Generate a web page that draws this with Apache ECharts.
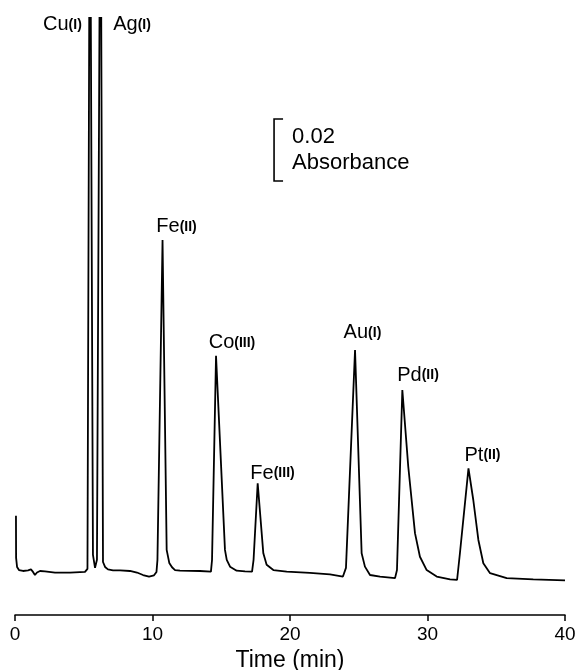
<!DOCTYPE html>
<html>
<head>
<meta charset="utf-8">
<script src="https://cdn.jsdelivr.net/npm/echarts@6/dist/echarts.min.js"></script>
<style>
html,body{margin:0;padding:0;background:#fff;}
#main{width:576px;height:670px;}
</style>
</head>
<body>
<div id="main"></div>
<script>
// chromatogram trace: [time (min), absorbance]
var trace = [
[0.07,0.0181],[0.08,0.0045],[0.15,0.0016],[0.29,0.0006],[0.58,0.0003],[0.95,0.0005],
[1.16,0.0008],[1.31,0],[1.45,-0.001],[1.6,-0.0002],[1.82,0.0003],[2.18,0.0002],
[2.91,-0.0002],[4.0,-0.0002],[5.09,0],[5.27,0.001],[5.45,0.25],[5.67,0.0055],
[5.82,0.0013],[5.96,0.0039],[6.22,0.25],[6.4,0.0032],[6.55,0.0016],[6.76,0.0008],
[7.13,0.0005],[7.64,0.0005],[8.36,0.0003],[8.87,-0.0002],[9.31,-0.001],[9.75,-0.0015],
[10.11,-0.0011],[10.29,0],[10.36,0.0039],[10.73,0.1071],[11.03,0.0071],[11.22,0.0029],
[11.42,0.0015],[11.64,0.0006],[12.0,0.0004],[13.45,0.0003],[14.25,0.0001],[14.33,0.0039],
[14.62,0.0697],[15.27,0.0071],[15.4,0.0039],[15.64,0.0017],[16.12,0.0004],[16.73,0.0002],
[17.24,0.0001],[17.35,0.0039],[17.65,0.0286],[18.06,0.006],[18.3,0.0023],[18.79,0.0006],
[19.76,0.0001],[21.45,-0.0003],[22.91,-0.0008],[23.85,-0.0015],[24.07,0.0013],[24.73,0.0716],
[25.21,0.006],[25.45,0.0017],[25.82,-0.001],[26.55,-0.0015],[27.64,-0.002],[27.78,0.0006],
[28.17,0.0587],[28.6,0.034],[29.09,0.0125],[29.45,0.0049],[29.94,0.0006],[30.67,-0.0015],
[31.64,-0.0024],[32.15,-0.0026],[32.36,0.0061],[32.98,0.0334],[33.33,0.0232],[33.7,0.0103],
[34.06,0.0028],[34.55,-0.0004],[35.76,-0.002],[37.69,-0.0024],[40.0,-0.0027]
];

// peak labels
var peakNames = ['Cu','Ag','Fe','Co','Fe','Au','Pd','Pt'];
var peakStates = ['(I)','(I)','(II)','(III)','(III)','(I)','(II)','(II)'];
var labelTimes = [3.45,8.51,11.75,15.78,18.73,25.27,29.31,34.0];
var labelAbs = [0.1765,0.1765,0.1113,0.0739,0.0319,0.0771,0.0635,0.0377];

// scale bar: 0.02 absorbance
var barValue = 0.02;
var barTime = 18.84;
var barBottom = 0.1261;
var barTextTime = 20.15;

var font = 'Liberation Sans, Arial, Helvetica, sans-serif';

function draw(){
	var myChart = echarts.init(document.getElementById('main'));
	var option = {
		animation:false,
		grid:{left:15, right:11, top:18, bottom:55, containLabel:false, outerBoundsMode:'none'},
		xAxis:{
			type:'value', min:0, max:40, interval:10,
			axisLine:{onZero:false, lineStyle:{color:'#000', width:1.5}},
			axisTick:{show:true, length:6, lineStyle:{color:'#000', width:1.5}},
			axisLabel:{color:'#000', fontSize:19, margin:10, fontFamily:font},
			splitLine:{show:false},
			name:'Time (min)', nameLocation:'middle', nameGap:30,
			nameTextStyle:{color:'#000', fontSize:23, fontFamily:font}
		},
		yAxis:{type:'value', min:-0.0139, max:0.1787, show:false, splitLine:{show:false}},
		series:[
			{
				type:'line', data:trace, symbol:'none', showSymbol:false, clip:true,
				lineStyle:{color:'#000', width:1.8}
			}
		]
	};
	myChart.setOption(option);

	var graphics = [];
	// peak labels, placed in data units
	for (var i=0;i<peakNames.length;i++){
		var p = myChart.convertToPixel({gridIndex:0},[labelTimes[i],labelAbs[i]]);
		graphics.push({
			type:'text', x:p[0], y:p[1],
			style:{
				text:'{a|'+peakNames[i]+'}{b|'+peakStates[i]+'}',
				align:'center', verticalAlign:'middle',
				rich:{
					a:{fontSize:20, fill:'#000', fontFamily:font, verticalAlign:'middle'},
					b:{fontSize:14, fontWeight:'bold', fill:'#000', fontFamily:font, verticalAlign:'middle'}
				}
			}
		});
	}

	// scale bar
	var pb = myChart.convertToPixel({gridIndex:0},[barTime, barBottom]);
	var pt = myChart.convertToPixel({gridIndex:0},[barTime, barBottom+barValue]);
	var ptx = myChart.convertToPixel({gridIndex:0},[barTextTime, barBottom+barValue/2]);
	graphics.push({type:'polyline', shape:{points:[[pt[0]+9,pt[1]],[pt[0],pt[1]],[pb[0],pb[1]],[pb[0]+9,pb[1]]]},
		style:{stroke:'#000', lineWidth:1.6, fill:null}});
	graphics.push({type:'text', x:ptx[0], y:ptx[1],
		style:{text:'0.02\nAbsorbance', fill:'#000', fontSize:22, fontFamily:font, verticalAlign:'middle', lineHeight:26}});

	myChart.setOption({graphic:graphics});
}
draw();
</script>
</body>
</html>
